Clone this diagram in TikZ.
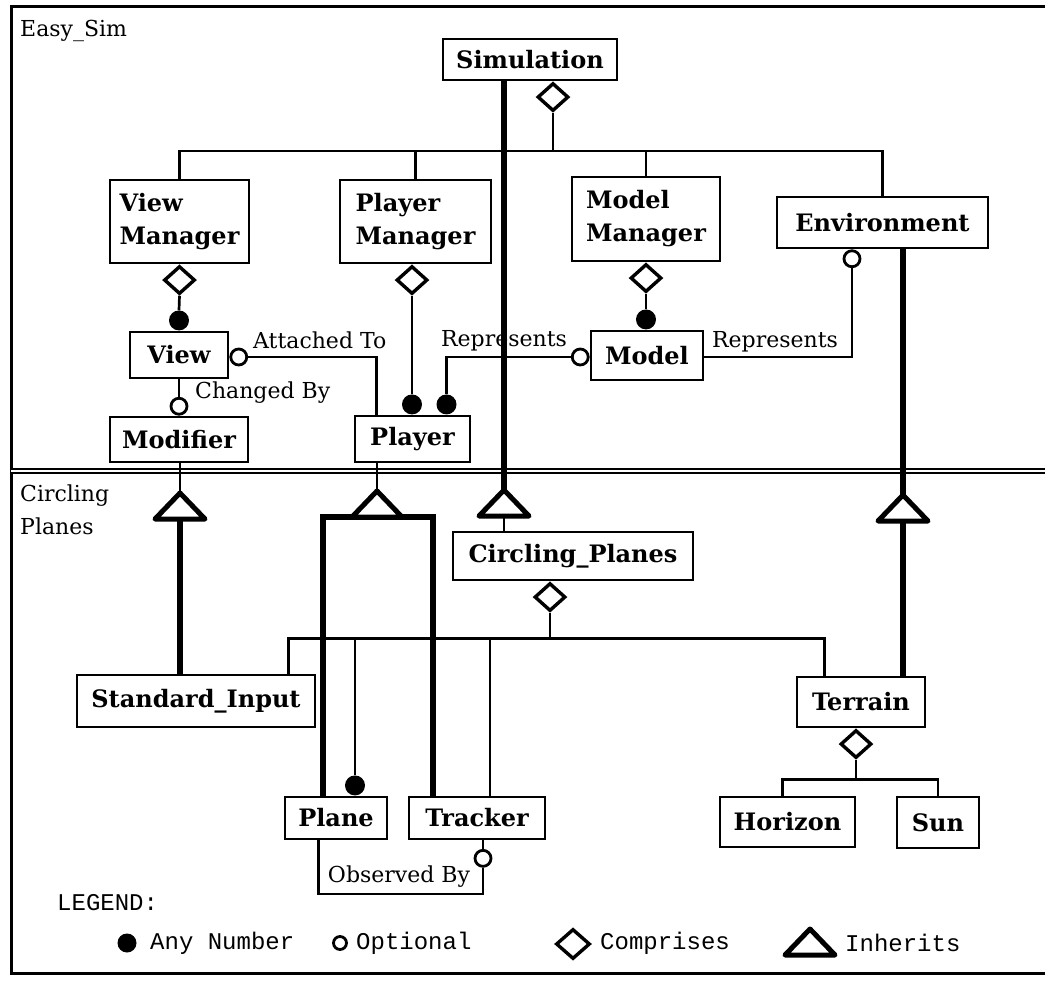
\documentclass[tikz,border=0pt]{standalone}
\usepackage{fontspec}
\setmainfont{DejaVu Serif}
\newfontfamily\legendfont{Liberation Mono}
\usetikzlibrary{shapes.geometric,calc}

\begin{document}
\begin{tikzpicture}[x=1pt,y=-1pt,
  box/.style={draw, line width=2.7pt, fill=white, inner sep=0pt, align=left,
    font=\fontsize{24}{33}\selectfont\bfseries},
  conn/.style={line width=2.7pt},
  inh/.style={line width=5.5pt},
  comp/.style={draw, diamond, line width=3.4pt, fill=white, inner sep=0pt,
    minimum width=31pt, minimum height=28pt},
  many/.style={circle, fill=black, inner sep=0pt, minimum size=20pt},
  opt/.style={circle, draw, line width=2.8pt, fill=white, inner sep=0pt, minimum size=16pt},
  lbl/.style={font=\fontsize{22}{33}\selectfont, inner sep=0pt},
  leg/.style={font=\legendfont\fontsize{24}{28}\selectfont, inner sep=0pt, anchor=west},
  inherit/.pic={
    \draw[line width=5pt, line join=round, fill=white] (-25,13) -- (0,-13) -- (25,13) -- cycle;
    \coordinate (-apex) at (0,-13);
    \coordinate (-base) at (0,13);
  }
]
\useasboundingbox (0,0) rectangle (1045,984);

% outer frame and the double line between the two packages
\draw[line width=3pt] (1045,7) -- (11,7) -- (11,973) -- (1045,973);
\draw[line width=1.9pt, double, double distance=1.6pt] (11,471) -- (1045,471);

% package names
\node[lbl, anchor=west] (sec1) at (20,31) {Easy\_Sim};
\node[lbl, anchor=north west, align=left] (sec2) at (20,485) {Circling\\Planes};

% classes
\node[box, minimum width=174pt, minimum height=41pt] (sim) at (530,59.5) {Simulation};
\node[box, minimum width=139pt, minimum height=83pt] (vm) at (179.5,221.5) {View\\Manager};
\node[box, minimum width=151pt, minimum height=83pt] (pm) at (415.5,221.5) {Player\\Manager};
\node[box, minimum width=148pt, minimum height=84pt] (mm) at (646,219) {Model\\Manager};
\node[box, minimum width=211pt, minimum height=51pt] (env) at (882.5,222.5) {Environment};
\node[box, minimum width=98pt, minimum height=46pt] (view) at (179,355) {View};
\node[box, minimum width=115pt, minimum height=46pt] (player) at (412.5,439) {Player};
\node[box, minimum width=112pt, minimum height=49pt] (model) at (647,355.5) {Model};
\node[box, minimum width=138pt, minimum height=45pt] (modifier) at (179,439.5) {Modifier};
\node[box, minimum width=240pt, minimum height=48pt] (cp) at (573,556) {Circling\_Planes};
\node[box, minimum width=238pt, minimum height=52pt] (si) at (196,701) {Standard\_Input};
\node[box, minimum width=128pt, minimum height=50pt] (terrain) at (861,702) {Terrain};
\node[box, minimum width=102pt, minimum height=42pt] (plane) at (336,818) {Plane};
\node[box, minimum width=136pt, minimum height=42pt] (tracker) at (477,818) {Tracker};
\node[box, minimum width=135pt, minimum height=50pt] (horizon) at (787.5,822) {Horizon};
\node[box, minimum width=82pt, minimum height=51pt] (sun) at (938,822.5) {Sun};

% Simulation comprises the four managers
\coordinate (tb) at (530,151);
\node[comp, anchor=north] (dsim) at ($(sim.south)+(23,0)$) {};
\draw[conn] (vm.north) |- (env.north |- tb) -- (env.north);
\draw[conn] (pm.north) -- (pm.north |- tb);
\draw[conn] (mm.north) -- (mm.north |- tb);
\draw[conn] (dsim.south) -- (dsim.south |- tb);

% managers comprise their items
\node[comp, anchor=north] (dvm) at (vm.south) {};
\node[many, anchor=south] (mview) at (view.north) {};
\draw[conn] (dvm.south) -- (mview.north);

\node[comp, anchor=north] (dpm) at ($(pm.south)+(-3.5,0)$) {};
\node[many, anchor=south] (mplayer) at (dpm.south |- player.north) {};
\draw[conn] (dpm.south) -- (mplayer.north);

\node[comp, anchor=north] (dmm) at (mm.south) {};
\node[many, anchor=south] (mmodel) at (dmm.south |- model.north) {};
\draw[conn] (dmm.south) -- (mmodel.north);

% Model represents Player / Environment
\node[many, anchor=south] (mrep) at ($(player.north)+(34,0)$) {};
\node[opt, anchor=east] (orep) at ($(model.west)+(0,1.5)$) {};
\draw[conn] (mrep.north) |- (orep.west);
\node[lbl] (lrep1) at (504,341) {Represents};

\node[opt, anchor=north] (oenv) at ($(env.south)+(-30.5,0)$) {};
\draw[conn] (model.east |- orep) -| (oenv.south);
\node[lbl] (lrep2) at (775,342) {Represents};

% View attached to Player, changed by Modifier
\node[opt, anchor=west] (oview) at ($(view.east)+(0,2)$) {};
\draw[conn] (oview.east) -| ($(player.north west)+(23,0)$);
\node[lbl, anchor=west] (latt) at (253,340) {Attached To};

\node[opt, anchor=south] (omod) at (modifier.north) {};
\draw[conn] (view.south) -- (omod.north);
\node[lbl, anchor=west] (lchg) at (195,393) {Changed By};

% inheritance across the packages
\pic (tsim) at (504,503) {inherit};
\draw[inh] (tsim-apex |- sim.south) -- (tsim-apex);
\draw[conn] (tsim-base) -- (tsim-base |- cp.north);

\pic (tmod) at (180,506) {inherit};
\draw[conn] (tmod-apex |- modifier.south) -- (tmod-apex);
\draw[inh] (tmod-base) -- (tmod-base |- si.north);

\coordinate (pla) at (323,517);
\coordinate (plb) at (433,517);
\draw[inh] (pla |- plane.north) -- (pla) -- (plb) -- (plb |- tracker.north);
\pic (tpl) at (377,504) {inherit};
\draw[conn] (tpl-apex |- player.south) -- (tpl-apex);

\pic (tenv) at (903,508) {inherit};
\draw[inh] (tenv-apex |- env.south) -- (tenv-apex);
\draw[inh] (tenv-base) -- (tenv-base |- terrain.north);

% Circling_Planes comprises its parts
\node[comp, anchor=north] (dcp) at ($(cp.south)+(-23,0)$) {};
\coordinate (lbus) at ($(dcp.south)+(0,26)$);
\draw[conn] (dcp.south) -- (lbus);
\draw[conn] ($(si.north east)+(-28,0)$) |- (lbus) -| ($(terrain.north west)+(29,0)$);
\node[many, anchor=south] (mplane) at ($(plane.north)+(19,0)$) {};
\draw[conn] (mplane.north) -- (mplane.north |- lbus);
\coordinate (tkd) at ($(tracker.north)+(13,0)$);
\draw[conn] (tkd) -- (tkd |- lbus);

% Terrain comprises Horizon and Sun
\node[comp, anchor=north] (dter) at ($(terrain.south)+(-5,0)$) {};
\coordinate (tbus) at ($(dter.south)+(0,20)$);
\draw[conn] (dter.south) -- (tbus);
\draw[conn] ($(horizon.north)+(-5,0)$) |- (tbus) -| (sun.north);

% Plane observed by Tracker
\node[opt] (otr) at ($(tracker.south)+(6,18)$) {};
\draw[conn] (tracker.south -| otr) -- (otr.north);
\coordinate (obs) at (400,894);
\draw[conn] ($(plane.south west)+(35,0)$) |- (obs) -| (otr.south);
\node[lbl] (lobs) at (399,877) {Observed By};

% legend
\node[leg] (legt) at (57,903) {LEGEND:};
\node[many, minimum size=19pt] (lgm) at (127,943) {};
\node[leg] (lgmt) at (150,943) {Any Number};
\node[opt, minimum size=13pt] (lgo) at (340,943) {};
\node[leg] (lgot) at (356,943) {Optional};
\node[comp, minimum width=34pt, minimum height=30pt] (lgc) at (573,944) {};
\node[leg] (lgct) at (600,943) {Comprises};
\pic (lgi) at (810,942) {inherit};
\node[leg] (lgit) at (845,943) {Inherits};
\end{tikzpicture}
\end{document}
